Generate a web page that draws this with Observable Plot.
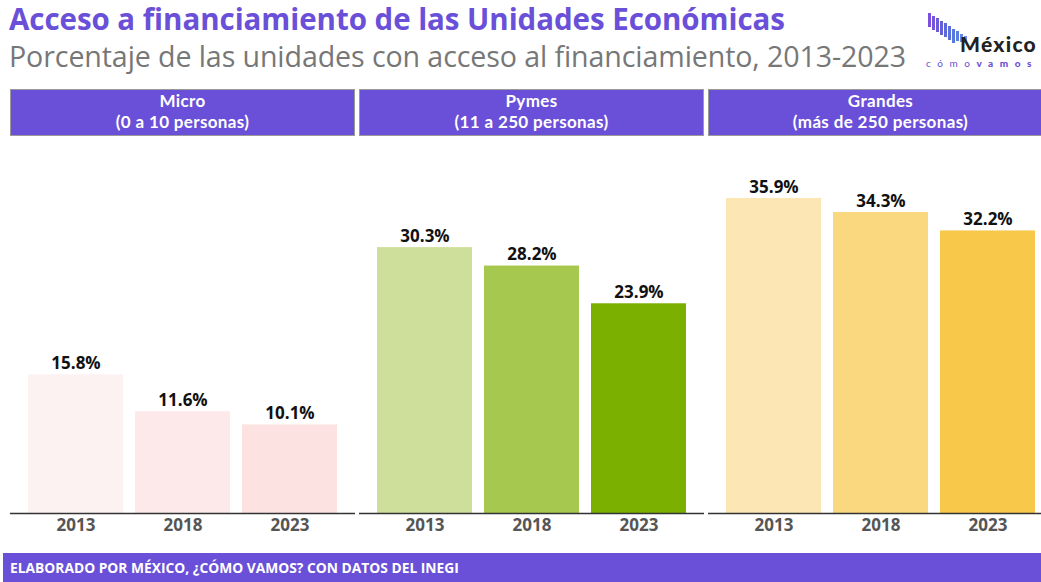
<!DOCTYPE html>
<html><head><meta charset="utf-8">
<script src="https://cdn.jsdelivr.net/npm/d3@7"></script>
<script src="https://cdn.jsdelivr.net/npm/@observablehq/plot@0.6"></script>
<style>
html,body{margin:0;padding:0;background:#fff;width:1041px;height:582px;overflow:hidden;font-family:"Open Sans","Noto Sans",sans-serif;}
#title{position:absolute;left:9px;top:-1px;font-size:29.5px;line-height:40px;font-weight:700;color:#6a50d8;white-space:nowrap;letter-spacing:-0.05px}
#subtitle{position:absolute;left:9px;top:37px;font-size:28.6px;line-height:38px;color:#777;white-space:nowrap;letter-spacing:-0.1px}
.hdr{position:absolute;top:89px;height:44px;width:343px;background:#6a50d8;border:1px solid #9a9a9a;color:#fff;font-family:Lato,"Open Sans",sans-serif;font-weight:700;font-size:17px;line-height:20.5px;text-align:center;padding-top:1px;box-sizing:content-box;letter-spacing:0.35px}
#chart{position:absolute;left:0;top:134px}
#chart svg{max-width:none}
#footer{position:absolute;left:3px;top:553px;width:1038px;height:29px;background:#6a50d8;color:#fff;font-weight:700;font-size:13.8px;line-height:29px;padding-left:7px;box-sizing:border-box}
#logo{position:absolute;left:924px;top:10px;width:117px;height:64px}
#logo .b{position:absolute;width:3px}
#logo .mx{position:absolute;left:36px;top:21.3px;font-family:Lato,sans-serif;font-size:21px;line-height:1.2;font-weight:900;color:#222;white-space:nowrap}
#logo .cv{position:absolute;left:2px;top:47.1px;font-family:Lato,sans-serif;font-size:10px;line-height:1.2;color:#6a50d8;white-space:nowrap}
#logo .cv b{font-weight:900}
</style>
</head><body>
<div id="title">Acceso a financiamiento de las Unidades Económicas</div>
<div id="subtitle">Porcentaje de las unidades con acceso al financiamiento, 2013-2023</div>
<div id="logo"></div>
<div id="headers"></div>
<div id="chart"></div>
<div id="footer">ELABORADO POR MÉXICO, ¿CÓMO VAMOS? CON DATOS DEL INEGI</div>
<script>
// ---- data ----
const segments = ["Micro", "Pymes", "Grandes"];
const segmentSubtitles = ["(0 a 10 personas)", "(11 a 250 personas)", "(más de 250 personas)"];
const years = ["2013", "2018", "2023"];
const microValues = [15.8, 11.6, 10.1];
const pymesValues = [30.3, 28.2, 23.9];
const grandesValues = [35.9, 34.3, 32.2];

// ---- palette (style) ----
const palette = {
  Micro: ["#fdf2f2", "#fde9e9", "#fde2e2"],
  Pymes: ["#cddf9b", "#a7c84f", "#7cb000"],
  Grandes: ["#fce7b4", "#fad87f", "#f8c84b"]
};

const seriesValues = [microValues, pymesValues, grandesValues];
const table = [];
segments.forEach((s, i) => years.forEach((y, j) => table.push({segment: s, year: y, value: seriesValues[i][j], fill: palette[s][j]})));

// headers
const hdrs = document.getElementById("headers");
segments.forEach((s, i) => {
  const d = document.createElement("div");
  d.className = "hdr";
  d.style.left = (10 + i * 349) + "px";
  d.innerHTML = s + "<br>" + segmentSubtitles[i];
  hdrs.appendChild(d);
});

// logo (decoration)
const logo = document.getElementById("logo");
const lc = ["#7b50e0","#7455dc","#6c5ad8","#6560d6","#5f68d8","#5a70da","#5878dc","#5c80e0","#6488e4","#6c90e8"];
lc.forEach((c, i) => {
  const e = document.createElement("div");
  e.className = "b";
  e.style.left = (4 + i * 4) + "px";
  e.style.top = (3 + i * 2.6) + "px";
  e.style.height = (i < 7 ? 14 : 10 - (i - 7) * 2) + "px";
  e.style.background = c;
  logo.appendChild(e);
});
logo.insertAdjacentHTML("beforeend", '<div class="mx">México</div><div class="cv">cómo<b>vamos</b></div>');
function fitWidth(el, target) {
  const n = el.textContent.length;
  const w = el.getBoundingClientRect().width;
  el.style.letterSpacing = ((target - w) / n) + "px";
}
fitWidth(logo.querySelector(".mx"), 77);
fitWidth(logo.querySelector(".cv"), 112);

const chart = Plot.plot({
  width: 1060,
  height: 417,
  marginLeft: 10,
  marginRight: 7,
  marginTop: 28,
  marginBottom: 38,
  style: {fontFamily: "'Open Sans','Noto Sans',sans-serif", background: "transparent"},
  fx: {domain: segments, paddingInner: 4 / 349, paddingOuter: 0, axis: null, label: null},
  x: {domain: years, paddingInner: 0.11, paddingOuter: 0.16, label: null},
  y: {domain: [0, 40], axis: null},
  marks: [
    Plot.barY(table, {fx: "segment", x: "year", y: "value", fill: "fill"}),
    Plot.ruleY([0], {stroke: "#333", strokeWidth: 1.5}),
    Plot.text(table, {fx: "segment", x: "year", y: "value", text: d => d.value.toFixed(1) + "%", dy: -11, fontSize: 17, fontWeight: 700, fill: "#111"}),
    Plot.axisX({tickSize: 0, tickPadding: 5, fontSize: 17, fontWeight: 700, color: "#555", label: null})
  ]
});
document.getElementById("chart").appendChild(chart);
</script>
</body></html>
